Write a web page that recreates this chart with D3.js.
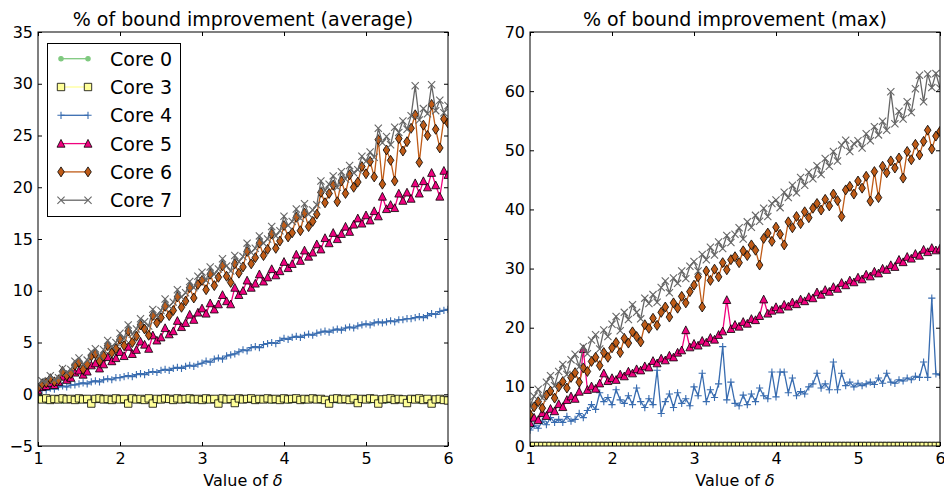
<!DOCTYPE html>
<html>
<head>
<meta charset="utf-8">
<script src="https://cdn.jsdelivr.net/npm/d3@7"></script>
<style>
  body { margin: 0; background: #fff; }
  svg { font-family: "DejaVu Sans", sans-serif; }
  .tick line { stroke: #000; stroke-width: 1; }
  .tick text { font-size: 16px; fill: #000; font-family: "DejaVu Sans", sans-serif; }
</style>
</head>
<body>
<svg width="944" height="490"></svg>
<script>
'use strict';

var DELTAS = [
  1.00, 1.05, 1.10, 1.15, 1.20, 1.25, 1.30, 1.35, 1.40, 1.45,
  1.50, 1.55, 1.60, 1.65, 1.70, 1.75, 1.80, 1.85, 1.90, 1.95,
  2.00, 2.05, 2.10, 2.15, 2.20, 2.25, 2.30, 2.35, 2.40, 2.45,
  2.50, 2.55, 2.60, 2.65, 2.70, 2.75, 2.80, 2.85, 2.90, 2.95,
  3.00, 3.05, 3.10, 3.15, 3.20, 3.25, 3.30, 3.35, 3.40, 3.45,
  3.50, 3.55, 3.60, 3.65, 3.70, 3.75, 3.80, 3.85, 3.90, 3.95,
  4.00, 4.05, 4.10, 4.15, 4.20, 4.25, 4.30, 4.35, 4.40, 4.45,
  4.50, 4.55, 4.60, 4.65, 4.70, 4.75, 4.80, 4.85, 4.90, 4.95,
  5.00, 5.05, 5.10, 5.15, 5.20, 5.25, 5.30, 5.35, 5.40, 5.45,
  5.50, 5.55, 5.60, 5.65, 5.70, 5.75, 5.80, 5.85, 5.90, 5.95,
  6.00];

var CORES = ['Core 0', 'Core 3', 'Core 4', 'Core 5', 'Core 6', 'Core 7'];
var X_TICKS = [1, 2, 3, 4, 5, 6];
var AVG_Y_TICKS = [-5, 0, 5, 10, 15, 20, 25, 30, 35];
var MAX_Y_TICKS = [0, 10, 20, 30, 40, 50, 60, 70];

// average panel
var AVG_CORE0 = [
  -0.60, -0.55, -0.65, -0.60, -0.55, -0.60, -0.65, -0.60, -0.55, -0.60,
  -0.65, -0.60, -0.55, -0.65, -0.60, -0.55, -0.60, -0.65, -0.60, -0.55,
  -0.60, -0.65, -0.60, -0.55, -0.60, -0.65, -0.60, -0.55, -0.60, -0.65,
  -0.60, -0.55, -0.60, -0.65, -0.60, -0.55, -0.60, -0.65, -0.60, -0.55,
  -0.60, -0.65, -0.60, -0.55, -0.60, -0.65, -0.60, -0.55, -0.60, -0.65,
  -0.60, -0.55, -0.60, -0.65, -0.60, -0.55, -0.60, -0.65, -0.60, -0.55,
  -0.60, -0.65, -0.60, -0.55, -0.60, -0.65, -0.60, -0.55, -0.60, -0.65,
  -0.60, -0.55, -0.60, -0.65, -0.60, -0.55, -0.60, -0.65, -0.60, -0.55,
  -0.60, -0.65, -0.60, -0.55, -0.60, -0.65, -0.60, -0.55, -0.60, -0.65,
  -0.60, -0.55, -0.60, -0.65, -0.60, -0.55, -0.60, -0.65, -0.60, -0.55,
  -0.60];
var AVG_CORE3 = [
  -0.45, -0.50, -0.40, -0.55, -0.45, -0.50, -0.40, -0.50, -0.45, -0.55,
  -0.40, -0.50, -0.45, -0.90, -0.45, -0.40, -0.50, -0.45, -0.55, -0.40,
  -0.50, -0.45, -0.90, -0.40, -0.50, -0.45, -0.55, -0.40, -0.90, -0.45,
  -0.50, -0.40, -0.45, -0.55, -0.40, -0.50, -0.45, -0.40, -0.50, -0.45,
  -0.55, -0.40, -0.50, -0.45, -0.90, -0.40, -0.50, -0.45, -0.85, -0.40,
  -0.50, -0.45, -0.40, -0.55, -0.45, -0.50, -0.40, -0.50, -0.45, -0.55,
  -0.40, -0.50, -0.45, -0.40, -0.55, -0.45, -0.50, -0.40, -0.50, -0.45,
  -0.55, -0.90, -0.45, -0.40, -0.50, -0.45, -0.55, -0.40, -0.85, -0.45,
  -0.50, -0.40, -0.45, -0.90, -0.50, -0.45, -0.40, -0.55, -0.45, -0.50,
  -0.85, -0.45, -0.50, -0.40, -0.55, -0.45, -0.90, -0.50, -0.45, -0.55,
  -0.60];
var AVG_CORE4 = [
  0.3, 0.4, 0.4, 0.6, 0.5, 0.7, 0.8, 0.7, 0.9, 0.9,
  1.0, 1.1, 1.0, 1.2, 1.3, 1.2, 1.4, 1.5, 1.4, 1.6,
  1.6, 1.7, 1.8, 1.7, 1.9, 2.0, 1.9, 2.1, 2.2, 2.1,
  2.3, 2.4, 2.3, 2.5, 2.6, 2.5, 2.7, 2.8, 2.7, 2.9,
  3.0, 3.2, 3.1, 3.4, 3.5, 3.4, 3.7, 3.8, 3.9, 4.1,
  4.3, 4.2, 4.5, 4.6, 4.5, 4.8, 4.9, 5.0, 4.9, 5.2,
  5.4, 5.3, 5.5, 5.6, 5.5, 5.7, 5.8, 5.7, 5.9, 6.0,
  6.1, 6.0, 6.2, 6.3, 6.2, 6.4, 6.5, 6.4, 6.6, 6.7,
  6.8, 6.7, 6.9, 7.0, 6.9, 7.0, 7.1, 7.0, 7.2, 7.2,
  7.3, 7.3, 7.4, 7.5, 7.4, 7.6, 7.8, 7.7, 8.0, 8.1,
  8.2];
var AVG_CORE5 = [
  0.4, 0.7, 0.8, 1.1, 0.9, 1.2, 1.7, 1.4, 1.6, 2.1,
  2.3, 1.9, 2.2, 2.8, 3.0, 2.5, 2.9, 3.6, 3.2, 3.5,
  4.1, 3.7, 4.6, 3.9, 4.3, 5.1, 4.8, 4.4, 5.7, 5.2,
  5.5, 6.4, 5.8, 6.1, 7.1, 6.5, 6.9, 7.7, 7.2, 7.9,
  8.3, 7.8, 8.8, 8.2, 8.7, 9.6, 9.0, 8.7, 10.3, 9.6,
  10.0, 11.0, 10.3, 10.7, 11.6, 10.9, 11.3, 12.1, 11.5, 11.9,
  12.8, 12.2, 12.6, 13.5, 12.9, 13.9, 13.3, 13.7, 14.5, 14.0,
  15.1, 14.6, 15.6, 15.0, 15.5, 16.2, 15.7, 16.4, 17.0, 16.5,
  17.3, 16.8, 17.7, 17.2, 19.1, 17.9, 18.3, 18.0, 19.4, 18.7,
  19.5, 18.9, 20.4, 19.4, 20.6, 20.0, 21.4, 20.2, 19.1, 21.6,
  21.2];
var AVG_CORE6 = [
  0.6, 1.0, 1.1, 1.5, 1.2, 1.4, 2.2, 1.8, 2.0, 2.8,
  3.1, 2.4, 2.9, 3.7, 3.9, 3.2, 3.7, 4.7, 4.0, 4.4,
  5.3, 4.7, 6.1, 5.0, 5.6, 6.7, 6.3, 5.7, 7.6, 6.9,
  7.4, 8.5, 7.6, 8.1, 9.4, 8.4, 9.0, 10.3, 9.3, 10.6,
  11.0, 10.1, 11.6, 10.5, 11.3, 12.4, 11.4, 10.8, 12.6, 11.7,
  12.3, 13.8, 12.6, 13.2, 14.6, 13.4, 14.0, 15.5, 14.1, 14.8,
  16.3, 15.2, 15.6, 17.1, 15.8, 17.5, 16.2, 16.7, 17.4, 19.5,
  18.5, 19.4, 20.2, 18.6, 20.6, 19.4, 21.2, 20.0, 20.5, 22.0,
  21.3, 22.5, 21.0, 24.6, 20.3, 23.6, 22.6, 20.6, 24.7, 23.5,
  24.4, 25.7, 27.0, 22.4, 26.0, 25.0, 28.0, 25.6, 23.8, 26.6,
  26.2];
var AVG_CORE7 = [
  0.9, 1.3, 1.2, 1.8, 1.4, 1.6, 2.5, 2.1, 2.4, 3.2,
  3.5, 2.9, 3.3, 4.1, 4.4, 3.7, 4.3, 5.2, 4.6, 5.0,
  5.9, 5.4, 6.7, 5.8, 6.3, 7.3, 7.0, 6.6, 8.2, 7.6,
  8.1, 9.2, 8.5, 8.9, 10.1, 9.4, 9.8, 10.9, 10.3, 11.4,
  11.8, 11.0, 12.3, 11.6, 12.1, 13.1, 12.4, 11.9, 13.4, 12.8,
  13.3, 14.6, 13.7, 14.1, 15.3, 14.6, 15.0, 16.2, 15.3, 15.8,
  17.2, 16.3, 16.7, 17.9, 17.0, 18.4, 17.4, 17.8, 18.3, 20.6,
  19.7, 20.3, 21.1, 20.0, 21.5, 20.8, 22.1, 21.4, 21.7, 23.0,
  22.5, 23.4, 22.9, 25.7, 24.3, 24.9, 24.1, 25.8, 25.3, 26.4,
  25.6, 26.9, 29.8, 26.5, 27.6, 27.1, 29.9, 27.4, 28.4, 27.2,
  27.9];

// max panel
var MAX_CORE0 = [
  0, 0, 0, 0, 0, 0, 0, 0, 0, 0,
  0, 0, 0, 0, 0, 0, 0, 0, 0, 0,
  0, 0, 0, 0, 0, 0, 0, 0, 0, 0,
  0, 0, 0, 0, 0, 0, 0, 0, 0, 0,
  0, 0, 0, 0, 0, 0, 0, 0, 0, 0,
  0, 0, 0, 0, 0, 0, 0, 0, 0, 0,
  0, 0, 0, 0, 0, 0, 0, 0, 0, 0,
  0, 0, 0, 0, 0, 0, 0, 0, 0, 0,
  0, 0, 0, 0, 0, 0, 0, 0, 0, 0,
  0, 0, 0, 0, 0, 0, 0, 0, 0, 0,
  0];
var MAX_CORE3 = [
  0, 0, 0, 0, 0, 0, 0, 0, 0, 0,
  0, 0, 0, 0, 0, 0, 0, 0, 0, 0,
  0, 0, 0, 0, 0, 0, 0, 0, 0, 0,
  0, 0, 0, 0, 0, 0, 0, 0, 0, 0,
  0, 0, 0, 0, 0, 0, 0, 0, 0, 0,
  0, 0, 0, 0, 0, 0, 0, 0, 0, 0,
  0, 0, 0, 0, 0, 0, 0, 0, 0, 0,
  0, 0, 0, 0, 0, 0, 0, 0, 0, 0,
  0, 0, 0, 0, 0, 0, 0, 0, 0, 0,
  0, 0, 0, 0, 0, 0, 0, 0, 0, 0,
  0];
var MAX_CORE4 = [
  2.7, 3.5, 3.0, 4.2, 3.6, 4.8, 4.0, 4.5, 4.0, 5.0,
  4.2, 4.5, 5.5, 4.8, 6.0, 7.0, 6.2, 9.0, 7.5, 8.2,
  7.0, 9.5, 7.8, 7.2, 8.5, 7.0, 9.8, 7.5, 6.5, 8.0,
  7.0, 12.8, 5.5, 7.5, 8.8, 6.5, 9.0, 7.2, 8.0, 6.8,
  10.0, 8.5, 12.3, 7.5, 9.5, 8.2, 10.5, 16.8, 7.8, 10.8,
  7.2, 6.8, 8.6, 7.0, 8.8, 7.5, 9.8, 8.5, 8.0, 12.5,
  8.3, 12.5, 12.5, 9.0, 11.5, 8.5, 9.2, 8.8, 10.0, 10.5,
  12.3, 9.8, 10.5, 9.5, 14.2, 9.5, 12.3, 10.2, 10.8, 10.0,
  10.6, 10.2, 10.5, 10.8, 10.4, 11.5, 10.6, 12.3, 10.8, 10.6,
  11.2, 11.0, 11.5, 11.2, 11.8, 11.6, 14.2, 11.6, 25.0, 12.2,
  12.0];
var MAX_CORE5 = [
  3.9, 4.8, 4.4, 5.6, 5.1, 6.3, 5.9, 7.1, 6.6, 7.8,
  8.4, 8.0, 9.2, 16.4, 9.5, 10.1, 9.7, 10.6, 12.3, 11.0,
  11.5, 11.2, 12.1, 11.8, 12.6, 12.3, 13.0, 12.8, 13.5, 13.3,
  14.4, 14.0, 14.8, 14.5, 15.3, 15.0, 15.8, 16.2, 19.6, 16.7,
  17.3, 17.0, 17.8, 17.5, 18.3, 18.0, 18.8, 19.4, 24.7, 19.8,
  20.5, 20.2, 21.0, 20.7, 21.5, 21.3, 22.0, 24.8, 22.4, 22.9,
  23.5, 23.1, 23.9, 23.6, 24.3, 24.0, 24.8, 24.5, 25.2, 25.0,
  26.0, 25.6, 26.4, 26.1, 26.9, 26.6, 27.6, 27.2, 28.0, 27.7,
  28.5, 28.2, 29.0, 28.7, 29.5, 29.2, 30.0, 29.8, 30.6, 30.3,
  31.5, 31.1, 32.0, 31.7, 32.5, 32.2, 33.2, 32.8, 33.5, 33.1,
  33.4];
var MAX_CORE6 = [
  5.3, 6.6, 7.5, 6.4, 8.6, 9.3, 8.1, 10.0, 10.9, 9.8,
  11.6, 12.4, 10.8, 13.2, 12.6, 14.3, 15.0, 13.6, 15.8, 15.0,
  16.6, 17.5, 15.8, 18.2, 17.4, 19.3, 18.5, 17.6, 20.5, 19.9,
  21.6, 20.4, 22.6, 23.5, 21.8, 24.2, 23.3, 25.3, 24.2, 26.1,
  27.2, 28.6, 23.5, 29.6, 28.0, 29.9, 28.6, 31.0, 29.8, 31.5,
  32.0, 31.0, 33.0, 32.2, 34.0, 33.1, 30.6, 35.1, 36.0, 34.6,
  37.0, 35.8, 34.0, 37.9, 36.9, 38.8, 37.6, 39.6, 38.6, 40.2,
  41.0, 39.9, 41.7, 40.6, 42.6, 41.5, 38.8, 43.3, 43.9, 42.6,
  44.8, 43.6, 45.6, 41.4, 46.4, 42.0, 47.3, 46.2, 48.2, 47.0,
  48.7, 45.3, 49.8, 48.4, 51.0, 49.2, 51.5, 53.4, 50.2, 52.4,
  53.2];
var MAX_CORE7 = [
  6.8, 8.4, 9.6, 8.1, 10.8, 11.9, 10.2, 12.6, 13.8, 12.1,
  14.6, 15.5, 13.4, 16.8, 15.6, 17.9, 18.8, 16.4, 19.6, 18.5,
  20.6, 21.9, 19.5, 22.6, 21.4, 23.9, 22.6, 21.5, 25.0, 24.1,
  25.6, 24.3, 26.8, 27.9, 25.9, 28.4, 27.5, 29.6, 28.3, 30.4,
  31.2, 29.6, 32.4, 31.5, 33.6, 32.3, 34.5, 33.4, 35.6, 34.4,
  35.8, 36.9, 35.0, 37.9, 37.0, 39.0, 38.0, 40.2, 38.8, 41.0,
  41.6, 40.3, 42.9, 42.0, 44.1, 42.8, 45.4, 44.1, 46.3, 45.2,
  47.4, 45.9, 48.6, 47.3, 49.8, 48.2, 50.9, 51.7, 49.8, 51.1,
  51.6, 50.4, 52.8, 51.6, 54.0, 52.6, 54.9, 53.4, 59.9, 54.5,
  56.6, 55.3, 58.2, 56.4, 60.4, 62.7, 58.2, 62.9, 60.6, 63.0,
  60.5];

var svg = d3.select('svg');
var plotTop = 32,
    plotBottom = 446;

// one entry per core: colour, marker shape and whether the marker has a black edge
var STYLES = [
  { color: '#7fc97f', marker: 'M2.2,0A2.2,2.2 0 1,1 -2.2,0A2.2,2.2 0 1,1 2.2,0Z', filled: true, edge: false },
  { color: '#ffff99', marker: 'M-3.7,-3.7H3.7V3.7H-3.7Z', filled: true, edge: true },
  { color: '#386cb0', marker: 'M-3.6,0H3.6M0,-3.6V3.6', filled: false, edge: false },
  { color: '#f0027f', marker: 'M0,-4.2L4,3.6L-4,3.6Z', filled: true, edge: true },
  { color: '#bf5b17', marker: 'M0,-5L3.3,0L0,5L-3.3,0Z', filled: true, edge: true },
  { color: '#666666', marker: 'M-3.6,-3.6L3.6,3.6M-3.6,3.6L3.6,-3.6', filled: false, edge: false }
];

var panels = [
  { id: 'avg', left: 38, right: 448, title: '% of bound improvement (average)',
    yDomain: [-5, 35], yTicks: AVG_Y_TICKS, legend: true,
    series: [AVG_CORE0, AVG_CORE3, AVG_CORE4, AVG_CORE5, AVG_CORE6, AVG_CORE7] },
  { id: 'max', left: 530, right: 940, title: '% of bound improvement (max)',
    yDomain: [0, 70], yTicks: MAX_Y_TICKS, legend: false,
    series: [MAX_CORE0, MAX_CORE3, MAX_CORE4, MAX_CORE5, MAX_CORE6, MAX_CORE7] }
];

panels.forEach(drawPanel);

function drawMarkers(g, points, style) {
  g.selectAll('path.marker').data(points).enter().append('path')
    .attr('class', 'marker')
    .attr('d', style.marker)
    .attr('transform', function (d) { return 'translate(' + d[0] + ',' + d[1] + ')'; })
    .attr('fill', style.filled ? style.color : 'none')
    .attr('stroke', style.edge ? '#000' : style.color)
    .attr('stroke-width', style.edge ? 0.8 : 1.1);
}

function drawPanel(p) {
  var innerWidth = p.right - p.left,
      innerHeight = plotBottom - plotTop;
  var xScale = d3.scaleLinear().domain([1, 6]).range([0, innerWidth]);
  var yScale = d3.scaleLinear().domain(p.yDomain).range([innerHeight, 0]);

  var g = svg.append('g').attr('transform', 'translate(' + p.left + ',' + plotTop + ')');

  svg.append('clipPath').attr('id', 'clip-' + p.id)
    .append('rect').attr('width', innerWidth).attr('height', innerHeight);

  var plot = g.append('g').attr('clip-path', 'url(#clip-' + p.id + ')');

  var line = d3.line()
    .x(function (d, i) { return xScale(DELTAS[i]); })
    .y(function (d) { return yScale(d); });

  p.series.forEach(function (values, k) {
    var style = STYLES[k];
    var sg = plot.append('g');
    sg.append('path')
      .attr('d', line(values))
      .attr('fill', 'none')
      .attr('stroke', style.color)
      .attr('stroke-width', 1.3);
    var pts = values.map(function (v, i) { return [xScale(DELTAS[i]), yScale(v)]; });
    drawMarkers(sg, pts, style);
  });

  // axes: ticks on all four sides, pointing inward
  var xAxis = d3.axisBottom(xScale).tickValues(X_TICKS).tickSize(-4).tickPadding(7).tickFormat(d3.format('d'));
  var xTop = d3.axisTop(xScale).tickValues(X_TICKS).tickSize(-4).tickFormat('');
  var yAxis = d3.axisLeft(yScale).tickValues(p.yTicks).tickSize(-4).tickPadding(5)
    .tickFormat(function (d) { return d < 0 ? '\u2212' + Math.abs(d) : d; });
  var yRight = d3.axisRight(yScale).tickValues(p.yTicks).tickSize(-4).tickFormat('');

  g.append('g').attr('transform', 'translate(0,' + innerHeight + ')').call(xAxis);
  g.append('g').call(xTop);
  g.append('g').call(yAxis);
  g.append('g').attr('transform', 'translate(' + innerWidth + ',0)').call(yRight);
  g.selectAll('.domain').remove();

  g.append('rect')
    .attr('width', innerWidth).attr('height', innerHeight)
    .attr('fill', 'none').attr('stroke', '#000').attr('stroke-width', 1);

  g.append('text')
    .attr('x', innerWidth / 2).attr('y', 26 - plotTop)
    .attr('text-anchor', 'middle')
    .attr('font-size', 19)
    .text(p.title);

  var xl = g.append('text')
    .attr('x', innerWidth / 2).attr('y', 486 - plotTop)
    .attr('text-anchor', 'middle')
    .attr('font-size', 16);
  xl.append('tspan').text('Value of ');
  xl.append('tspan').attr('font-style', 'italic').text('\u03b4');

  if (p.legend) {
    drawLegend();
  }
}

function drawLegend() {
  var lg = svg.append('g');
  lg.append('rect')
    .attr('x', 47.5).attr('y', 43.5).attr('width', 133).attr('height', 173)
    .attr('fill', '#fff').attr('stroke', '#000').attr('stroke-width', 1);

  CORES.forEach(function (name, k) {
    var style = STYLES[k];
    var y = 58.7 + 28.3 * k;
    var row = lg.append('g');
    row.append('line')
      .attr('x1', 61).attr('x2', 88).attr('y1', y).attr('y2', y)
      .attr('stroke', style.color).attr('stroke-width', 1.3);
    drawMarkers(row, [[61, y], [88, y]], style);
    row.append('text')
      .attr('x', 110).attr('y', y + 7)
      .attr('font-size', 19)
      .text(name);
  });
}
</script>
</body>
</html>
